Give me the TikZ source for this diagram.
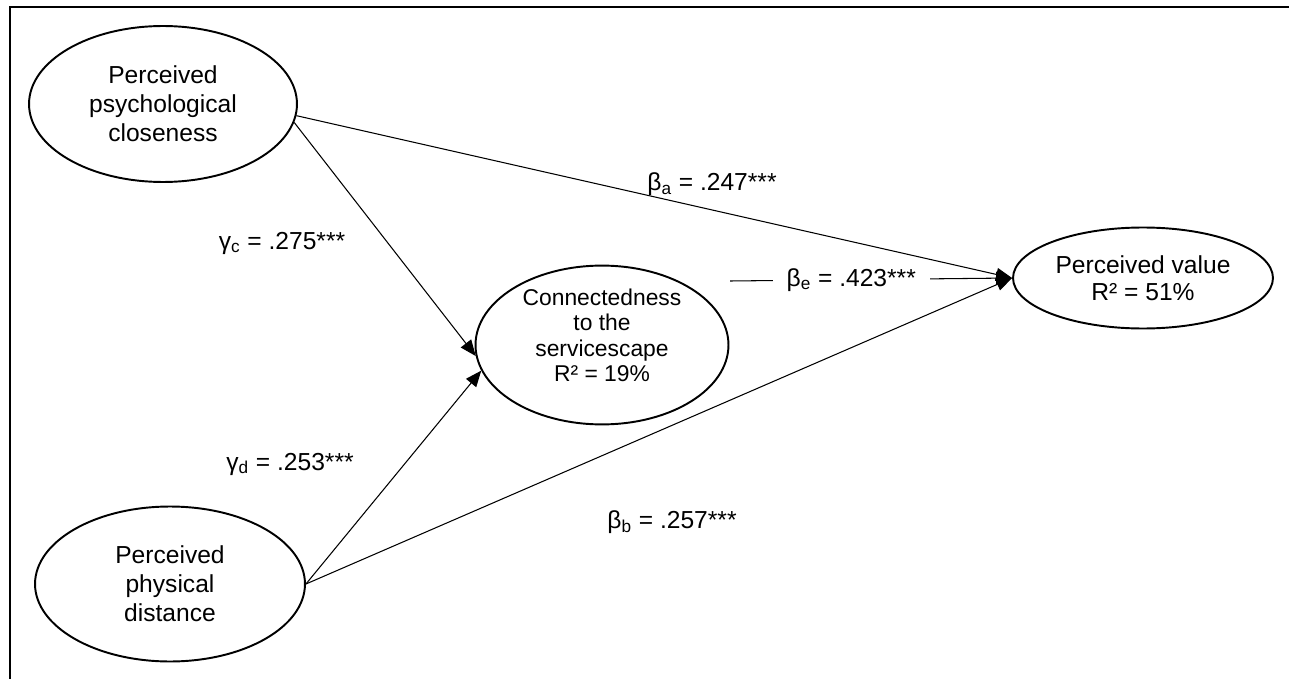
\documentclass[tikz,border=0pt]{standalone}
\usepackage{fontspec}
\setmainfont{Liberation Sans}
\usetikzlibrary{positioning,shapes.geometric,arrows.meta,calc}
\tikzset{
  construct/.style={ellipse,draw=black,line width=1.1pt,align=center,inner sep=0pt,
              font=\fontsize{14}{16.5}\selectfont},
  coef/.style={font=\fontsize{14}{17}\selectfont,inner sep=1pt},
  path/.style={-{Triangle[length=3.2mm,width=2.6mm]},line width=0.6pt,draw=black}
}

\begin{document}
\begin{tikzpicture}[x=0.02cm,y=-0.02cm]
    \useasboundingbox (0,0) rectangle (1289,679);
    \draw[line width=1.7pt] (10,679) -- (10,7) -- (1289,7);

    \node[construct,minimum width=5.36cm,minimum height=3.12cm] (close) at (163,104) {Perceived\\psychological\\closeness};
    \node[construct,minimum width=5.4cm,minimum height=3.1cm] (dist) at (170,584) {Perceived\\physical\\distance};
    \node[construct,minimum width=5.06cm,minimum height=2.84cm,font=\fontsize{13}{14.5}\selectfont] (conn) at (602,345) {Connectedness\\to the\\servicescape\\R² = 19\%\rule[-11pt]{0pt}{11pt}};
    \node[construct,minimum width=5.2cm,minimum height=2.02cm,font=\fontsize{14}{15.5}\selectfont] (val) at (1143,278) {Perceived value\\R² = 51\%};

    % loose start of the horizontal path
    \coordinate (eout) at (730,281);

    \path (close.-5) edge[path] (val.west);
    \path (close.-8) edge[path] (conn.185);
    \path (dist.east) edge[path] (conn.192);
    \path (dist.east) edge[path] (val.west);
    \path (eout) edge[path] node[coef,fill=white,pos=0.43,inner xsep=8pt] {β\textsubscript{e} = .423***} (val.west);

    \node[coef] (ga) at (712,184) {β\textsubscript{a} = .247***};
    \node[coef] (gc) at (282,243) {γ\textsubscript{c} = .275***};
    \node[coef] (gd) at (290,464) {γ\textsubscript{d} = .253***};
    \node[coef] (gb) at (672,522) {β\textsubscript{b} = .257***};
  \end{tikzpicture}
\end{document}
